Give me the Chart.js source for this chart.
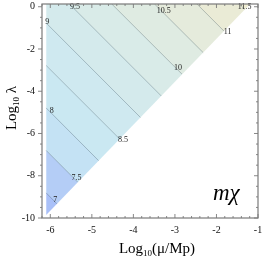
<!DOCTYPE html>
<html>
<head>
<meta charset="utf-8">
<script src="https://cdn.jsdelivr.net/npm/chart.js@4.4.1/dist/chart.umd.min.js"></script>
<style>
html, body { margin: 0; padding: 0; background: #fff; }
canvas { display: block; }
</style>
</head>
<body>
<canvas id="mchi" width="264" height="256"></canvas>
<script>
// contour levels of m_chi, and where each line meets the edges of the triangle
var levels = [7, 7.5, 8, 8.5, 9, 9.5, 10, 10.5, 11, 11.5];
var startX = [-6.10, -6.10, -6.10, -6.10, -6.10, -5.54, -4.52, -3.49, -2.47, -1.45];
var startY = [-8.81, -6.80, -4.79, -2.78, -0.77, 0.13, 0.13, 0.13, 0.13, 0.13];
var endX = [-5.84, -5.34, -4.84, -4.33, -3.83, -3.33, -2.83, -2.32, -1.82, -1.32];
var endY = [-9.33, -8.30, -7.28, -6.26, -5.24, -4.22, -3.19, -2.17, -1.15, -0.13];
// lower (diagonal) edge of the filled region
var edgeX = [-6.10, -1.19];
var edgeY = [-9.86, 0.13];
var xTicks = [-6, -5, -4, -3, -2, -1];
var yTicks = [-10, -8, -6, -4, -2, 0];

var serif = "'Liberation Serif', 'DejaVu Serif', serif";
// one colour per band, below 7 up to above 11.5
var bands = ['#a9c0f8', '#b4cdf6', '#c4e2f4', '#cae8f2', '#cfe9f0', '#d4eaec',
             '#d9ebe8', '#dfebe2', '#e5ebdc', '#eaebd6', '#eeecd2'];
// where the number sits along each line (0 = start, 1 = end)
var labelT = [0.75, 0.93, 0.09, 1.03, 0, 0.05, 0.93, 0.17, 1.1, 0.8];

function bandFill(context) {
    var chart = context.chart;
    var area = chart.chartArea;
    if (!area) return bands[5];
    var xs = chart.scales.x, ys = chart.scales.y;
    var x0 = area.left, y0 = area.bottom;
    var span = (area.right - area.left) + (area.bottom - area.top);
    var g = chart.ctx.createLinearGradient(x0, y0, x0 + span / 2, y0 - span / 2);
    g.addColorStop(0, bands[0]);
    for (var i = 0; i < levels.length; i++) {
        var px = (xs.getPixelForValue(startX[i]) + xs.getPixelForValue(endX[i])) / 2;
        var py = (ys.getPixelForValue(startY[i]) + ys.getPixelForValue(endY[i])) / 2;
        var t = Math.min(1, Math.max(0, ((px - x0) - (py - y0)) / span));
        g.addColorStop(t, bands[i]);
        g.addColorStop(t, bands[i + 1]);
    }
    g.addColorStop(1, bands[levels.length]);
    return g;
}

var datasets = [{
    label: 'region',
    data: edgeX.map(function (x, i) { return {x: x, y: edgeY[i]}; }),
    fill: 'end',
    backgroundColor: bandFill,
    borderWidth: 0,
    pointRadius: 0,
    order: 2
}];
levels.forEach(function (m, i) {
    datasets.push({
        label: String(m),
        data: [{x: startX[i], y: startY[i]}, {x: endX[i], y: endY[i]}],
        borderColor: 'rgba(85,105,115,0.55)',
        borderWidth: 0.7,
        pointRadius: 0,
        fill: false,
        order: 1
    });
});

var contourLabels = {
    id: 'contourLabels',
    afterDatasetsDraw: function (chart) {
        var c = chart.ctx, xs = chart.scales.x, ys = chart.scales.y;
        c.save();
        c.font = '8px ' + serif;
        c.fillStyle = '#222';
        c.textAlign = 'center';
        c.textBaseline = 'middle';
        levels.forEach(function (m, i) {
            var sx = xs.getPixelForValue(startX[i]), sy = ys.getPixelForValue(startY[i]);
            var ex = xs.getPixelForValue(endX[i]), ey = ys.getPixelForValue(endY[i]);
            var t = labelT[i];
            c.fillText(String(m), sx + t * (ex - sx) + 1, sy + t * (ey - sy) - 1.5);
        });
        c.restore();
    }
};

function logTitle(c, x, y, rest) {
    var big = '15px ' + serif, small = '9px ' + serif;
    c.font = big; var w1 = c.measureText('Log').width; var w3 = c.measureText(rest).width;
    c.font = small; var w2 = c.measureText('10').width;
    var left = x - (w1 + w2 + w3) / 2;
    c.font = big; c.fillText('Log', left, y);
    c.font = small; c.fillText('10', left + w1, y + 3);
    c.font = big; c.fillText(rest, left + w1 + w2, y);
}

var frame = {
    id: 'frame',
    afterDraw: function (chart) {
        var c = chart.ctx, a = chart.chartArea, xs = chart.scales.x, ys = chart.scales.y;
        c.save();
        c.strokeStyle = '#7a7a7a';
        c.lineWidth = 1.2;
        c.strokeRect(a.left, a.top, a.right - a.left, a.bottom - a.top);
        c.lineWidth = 0.9;
        c.beginPath();
        for (var k = -31; k <= -5; k++) {
            var v = k / 5, px = xs.getPixelForValue(v);
            var len = (k % 5 === 0) ? 4 : 2;
            c.moveTo(px, a.bottom); c.lineTo(px, a.bottom - len);
            c.moveTo(px, a.top); c.lineTo(px, a.top + len);
        }
        for (var j = -20; j <= 0; j++) {
            var w = j / 2, py = ys.getPixelForValue(w);
            var l2 = (j % 4 === 0) ? 4 : 2;
            c.moveTo(a.left, py); c.lineTo(a.left - l2, py);
            c.moveTo(a.right, py); c.lineTo(a.right - l2, py);
        }
        c.stroke();

        c.fillStyle = '#000';
        c.textAlign = 'left';
        c.textBaseline = 'alphabetic';
        logTitle(c, 157, 253, '(\u03bc/Mp)');
        c.save();
        c.translate(16, 108);
        c.rotate(-Math.PI / 2);
        logTitle(c, 0, 0, ' \u03bb');
        c.restore();
        c.font = 'italic 23px ' + serif;
        c.fillText('m\u03c7', 213, 200);
        c.restore();
    }
};

new Chart(document.getElementById('mchi'), {
    type: 'line',
    data: { datasets: datasets },
    options: {
        responsive: false,
        animation: false,
        layout: { padding: { top: 4, right: 6, left: 0, bottom: 0 } },
        plugins: { legend: { display: false }, tooltip: { enabled: false } },
        scales: {
            x: {
                type: 'linear', min: -6.2, max: -1,
                grid: { display: false, drawTicks: false },
                border: { display: false },
                ticks: { padding: 6, color: '#111', maxRotation: 0, autoSkip: false,
                         font: { family: serif, size: 10 },
                         callback: function (v) { return String(v); } },
                afterBuildTicks: function (s) { s.ticks = xTicks.map(function (v) { return {value: v}; }); },
                afterFit: function (s) { s.height = 38; s.paddingLeft = 0; s.paddingRight = 0; }
            },
            y: {
                type: 'linear', min: -10, max: 0.13,
                grid: { display: false, drawTicks: false },
                border: { display: false },
                ticks: { padding: 7, color: '#111', autoSkip: false,
                         font: { family: serif, size: 10 },
                         callback: function (v) { return String(v); } },
                afterBuildTicks: function (s) { s.ticks = yTicks.map(function (v) { return {value: v}; }); },
                afterFit: function (s) { s.width = 42; s.paddingTop = 0; s.paddingBottom = 0; }
            }
        }
    },
    plugins: [contourLabels, frame]
});
</script>
</body>
</html>
